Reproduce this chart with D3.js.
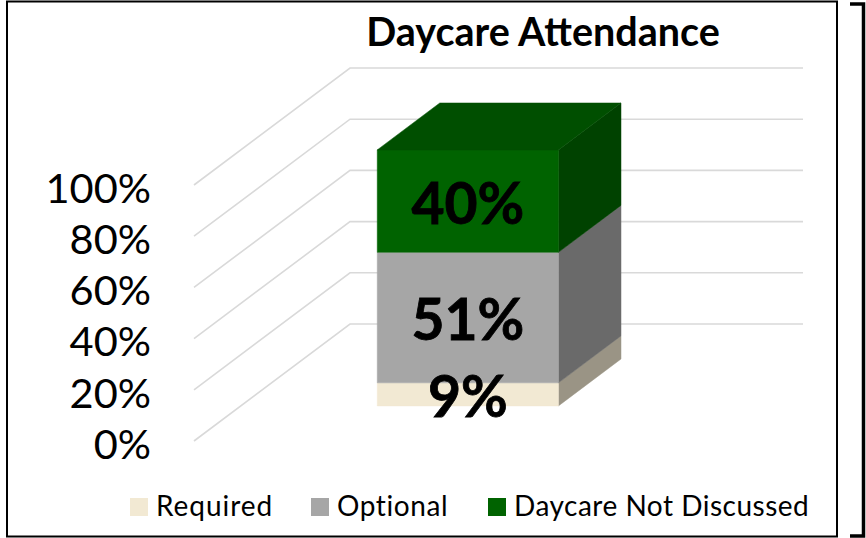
<!DOCTYPE html>
<html><head><meta charset="utf-8">
<script src="https://cdn.jsdelivr.net/npm/d3@7/dist/d3.min.js"></script>
<style>
html,body{margin:0;padding:0;background:#fff;overflow:hidden}
svg{display:block}
text{font-family:Lato,"Open Sans",sans-serif;fill:#000}
</style></head><body>
<svg id="c" width="866" height="538"></svg>
<script>
const categories = ["Daycare Attendance"];
const seriesNames = ["Required", "Optional", "Daycare Not Discussed"];
const seriesValues = [9, 51, 40];
const tickValues = [0, 20, 40, 60, 80, 100];
const frontColors = ["#f2e9d3", "#a6a6a6", "#006300"];
const sideColors = ["#9a9485", "#6a6a6a", "#004200"];
const topColor = "#004f00";

const svg = d3.select("#c");
const y = d3.scaleLinear().domain([0, 100]).range([441, 185]);
const x = d3.scaleBand().domain(categories).range([194, 647]).padding(0.4286).align(0.502);
const depthX = d3.scaleLinear().domain([0, 1]).range([0, 156]);
const depthY = d3.scaleLinear().domain([0, 1]).range([0, -117]);
const pt = (px, v, d) => [px + depthX(d), y(v) + depthY(d)];
const line = d3.line();
const poly = pts => line(pts) + "Z";

// frames
svg.append("rect").attr("x", 7).attr("y", 1.5).attr("width", 830).attr("height", 535)
  .attr("fill", "none").attr("stroke", "#000").attr("stroke-width", 2);
svg.append("path").attr("d", "M850,4H863.5V536H850").attr("fill", "none")
  .attr("stroke", "#000").attr("stroke-width", 3.5);

// title
svg.append("text").attr("x", 543).attr("y", 46).attr("text-anchor", "middle")
  .attr("font-size", 39.5).attr("font-weight", 700).text(categories[0]);

// gridlines: side wall + back wall
const grid = svg.append("g").attr("fill", "none").attr("stroke", "#d9d9d9").attr("stroke-width", 1.6);
tickValues.forEach(t => {
  grid.append("path").attr("d", line([pt(x.range()[0], t, 0), pt(x.range()[0], t, 1), pt(x.range()[1], t, 1)]));
});

// axis
const axis = svg.append("g").attr("transform", "translate(159,4)")
  .call(d3.axisLeft(y).tickValues(tickValues).tickSize(0).tickPadding(8).tickFormat(d => d + "%"));
axis.select(".domain").remove();
axis.selectAll("text").attr("font-size", 41.5).style("font-family", "Lato,'Open Sans',sans-serif").attr("fill", "#000");

// 3D stacked bar
const stack = d3.stack().keys(seriesNames)([Object.fromEntries(seriesNames.map((n, i) => [n, seriesValues[i]]))]);
const d0 = 0.3, d1 = 0.701;
const bar = svg.append("g");
const xL = x(categories[0]), xR = xL + x.bandwidth();
const face = (fill, pts) => bar.append("path").attr("fill", fill).attr("stroke", fill)
  .attr("stroke-width", 0.5).attr("d", poly(pts));
stack.forEach((s, i) => {
  const [v0, v1] = s[0];
  face(sideColors[i], [pt(xR, v0, d0), pt(xR, v0, d1), pt(xR, v1, d1), pt(xR, v1, d0)]);
  face(frontColors[i], [pt(xL, v0, d0), pt(xR, v0, d0), pt(xR, v1, d0), pt(xL, v1, d0)]);
});
face(topColor, [pt(xL, 100, d0), pt(xR, 100, d0), pt(xR, 100, d1), pt(xL, 100, d1)]);

// data labels
stack.forEach((s, i) => {
  const [v0, v1] = s[0];
  const c = pt((xL + xR) / 2, (v0 + v1) / 2, d0);
  svg.append("text").attr("x", c[0]).attr("y", c[1] + 22.5).attr("text-anchor", "middle")
    .attr("font-size", 57).attr("font-weight", 700).attr("stroke", "#000").attr("stroke-width", 0.8)
    .text(seriesValues[i] + "%");
});

// legend
const legendX = d3.scaleOrdinal().domain(seriesNames).range([130, 311, 488]);
const legendSpacing = [0.95, 0.6, 0.5];
seriesNames.forEach((n, i) => {
  svg.append("rect").attr("x", legendX(n)).attr("y", 498).attr("width", 18).attr("height", 18).attr("fill", frontColors[i]);
  svg.append("text").attr("x", legendX(n) + 26).attr("y", 516).attr("font-size", 28).attr("letter-spacing", legendSpacing[i]).text(n);
});
</script></body></html>
